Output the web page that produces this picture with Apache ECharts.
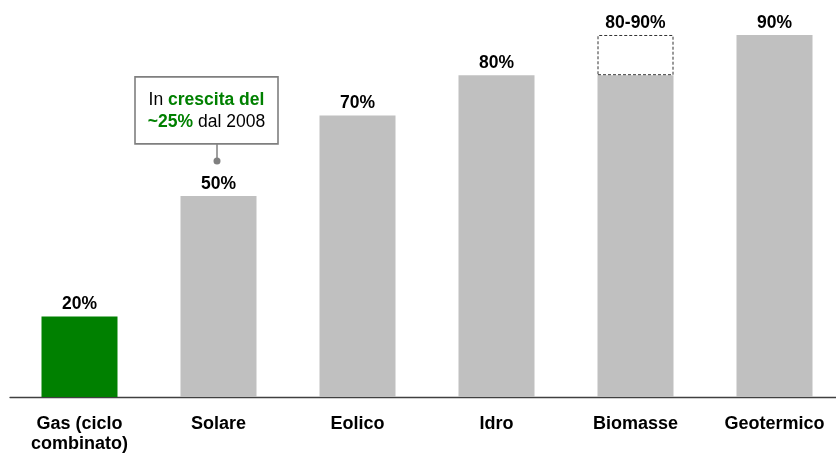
<!DOCTYPE html>
<html>
<head>
<meta charset="utf-8">
<script src="https://cdn.jsdelivr.net/npm/echarts@6/dist/echarts.min.js"></script>
<style>
  html, body { margin: 0; padding: 0; background: #fff; overflow: hidden; }
  /* il grafico originale continua oltre il bordo destro */
  #main { width: 844px; height: 455px; }
</style>
</head>
<body>
<div id="main"></div>
<script>
// dati
const categories = ['Gas (ciclo\ncombinato)', 'Solare', 'Eolico', 'Idro', 'Biomasse', 'Geotermico']
const baseValues = [20, 50, 70, 80, 80, 90]
const rangeValues = ['-', '-', '-', '-', 10, '-']   // parte tratteggiata 80-90%
const valueLabels = ['20%', '50%', '70%', '80%', '80-90%', '90%']
const noteCategory = 'Solare'

const FONT = '"Liberation Sans", Arial, sans-serif'
const GREEN = '#008000'

const chart = echarts.init(document.getElementById('main'))

const option = {
  animation: false,
  grid: { left: 10, right: 0, top: 0, bottom: 58 },
  xAxis: {
    type: 'category',
    data: categories,
    axisLine: { lineStyle: { color: '#404040', width: 1.3 } },
    axisTick: { show: false },
    axisLabel: {
      interval: 0,
      margin: 17,
      color: '#000',
      fontFamily: FONT,
      fontWeight: 'bold',
      fontSize: 18,
      lineHeight: 20
    }
  },
  yAxis: {
    type: 'value',
    min: 0,
    max: 98.7,
    show: false
  },
  series: [
    {
      type: 'bar',
      stack: 'tot',
      barWidth: 76,
      data: baseValues,
      itemStyle: {
        color: (p) => (p.dataIndex === 0 ? GREEN : '#c0c0c0')
      },
      label: {
        show: true,
        position: 'top',
        distance: 3,
        color: '#000',
        fontFamily: FONT,
        fontWeight: 'bold',
        fontSize: 17.5,
        formatter: (p) => (rangeValues[p.dataIndex] === '-' ? valueLabels[p.dataIndex] : '')
      }
    },
    {
      type: 'bar',
      stack: 'tot',
      barWidth: 76,
      data: rangeValues,
      itemStyle: {
        color: '#fff',
        borderColor: '#333',
        borderWidth: 1,
        borderType: [3, 2]
      },
      label: {
        show: true,
        position: 'top',
        distance: 3,
        color: '#000',
        fontFamily: FONT,
        fontWeight: 'bold',
        fontSize: 17.5,
        formatter: (p) => valueLabels[p.dataIndex]
      }
    }
  ]
}

chart.setOption(option)

// nota sopra la barra "Solare" (il riquadro è un po' spostato a sinistra rispetto al connettore)
const idx = categories.indexOf(noteCategory)
const pt = chart.convertToPixel({ seriesIndex: 0 }, [idx, baseValues[idx]])
const cx = pt[0] - 1.5
const barTop = pt[1]
chart.setOption({
  graphic: [
    {
      type: 'rect',
      shape: { x: cx - 82, y: barTop - 119, width: 143, height: 67 },
      style: { fill: '#fff', stroke: '#7f7f7f', lineWidth: 1.6 }
    },
    {
      type: 'text',
      x: cx - 10.5,
      y: barTop - 84.5,
      style: {
        text: '{n|In }{g|crescita del}\n{g|~25%}{n| dal 2008}',
        align: 'center',
        verticalAlign: 'middle',
        rich: {
          n: { fontFamily: FONT, fontSize: 17.5, fill: '#000', lineHeight: 22 },
          g: { fontFamily: FONT, fontSize: 17.5, fontWeight: 'bold', fill: GREEN, lineHeight: 22 }
        }
      }
    },
    {
      type: 'line',
      shape: { x1: cx, y1: barTop - 52, x2: cx, y2: barTop - 35 },
      style: { stroke: '#808080', lineWidth: 1.5 }
    },
    {
      type: 'circle',
      shape: { cx: cx, cy: barTop - 35, r: 3.5 },
      style: { fill: '#808080' }
    }
  ]
})
</script>
</body>
</html>
